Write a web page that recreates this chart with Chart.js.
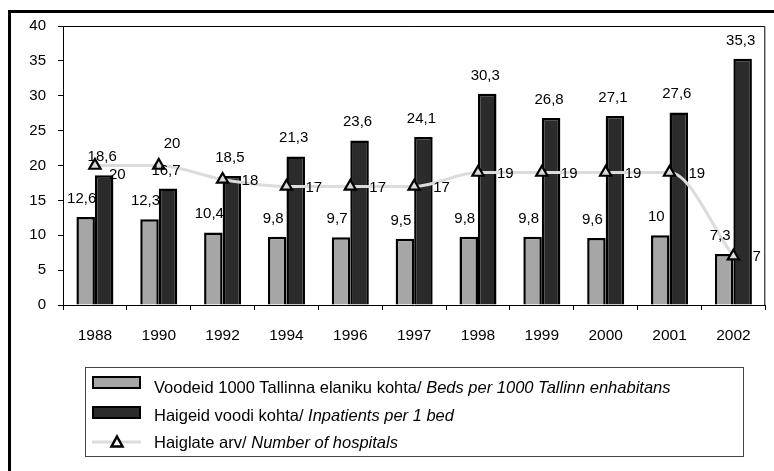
<!DOCTYPE html>
<html>
<head>
<meta charset="utf-8">
<script src="https://cdn.jsdelivr.net/npm/chart.js@4.4.1/dist/chart.umd.min.js"></script>
<style>
  html, body { margin: 0; padding: 0; background: #fff; }
  #wrap { position: relative; width: 774px; height: 471px; overflow: hidden; background: #fff; font-family: "Liberation Sans", Arial, sans-serif; }
  #frame { position: absolute; left: 8px; top: 10px; width: 800px; height: 500px; border-top: 3px solid #000; border-left: 3px solid #000; box-sizing: border-box; }
  #c { position: absolute; left: 0; top: 0; }
  #legend { position: absolute; left: 85px; top: 367px; width: 659px; height: 90px; border: 1px solid #444; box-sizing: border-box; }
  .sw { position: absolute; left: 6px; width: 49px; height: 13px; border: 2px solid #000; box-sizing: border-box; }
  .lt { position: absolute; left: 68px; font-size: 16.5px; line-height: 20px; white-space: nowrap; color: #000; }
  .lt i { font-style: italic; }
  #lsvg { position: absolute; left: 6px; top: 66px; }
</style>
</head>
<body>
<div id="wrap">
  <div id="frame"></div>
  <canvas id="c" width="774" height="471"></canvas>
  <div id="legend">
    <div class="sw" style="top:8px;background:#a6a6a6;"></div>
    <div class="lt" style="top:9px;">Voodeid 1000 Tallinna elaniku kohta/ <i>Beds per 1000 Tallinn enhabitans</i></div>
    <div class="sw" style="top:38px;background:#2b2b2b;"></div>
    <div class="lt" style="top:37px;">Haigeid voodi kohta/ <i>Inpatients per 1 bed</i></div>
    <svg id="lsvg" width="50" height="16" viewBox="0 0 50 16">
      <line x1="0" y1="8" x2="49" y2="8" stroke="#dcdcdc" stroke-width="3"/>
      <polygon points="25,2.5 30.5,12.5 19.5,12.5" fill="#fff" stroke="#000" stroke-width="2.5" stroke-linejoin="miter"/>
    </svg>
    <div class="lt" style="top:64px;">Haiglate arv/ <i>Number of hospitals</i></div>
  </div>
</div>
<script>
const years = ['1988', '1990', '1992', '1994', '1996', '1997', '1998', '1999', '2000', '2001', '2002'];
const bedsPer1000 = [12.6, 12.3, 10.4, 9.8, 9.7, 9.5, 9.8, 9.8, 9.6, 10, 7.3];
const inpatientsPerBed = [18.6, 16.7, 18.5, 21.3, 23.6, 24.1, 30.3, 26.8, 27.1, 27.6, 35.3];
const hospitals = [20, 20, 18, 17, 17, 17, 19, 19, 19, 19, 7];
const yTicks = [0, 5, 10, 15, 20, 25, 30, 35, 40];

const FONT = '"Liberation Sans", Arial, sans-serif';
const fmt = v => String(v).replace('.', ',');

const labelPlugin = {
  id: 'valueLabels',
  afterDatasetsDraw(chart) {
    const ctx = chart.ctx;
    ctx.save();
    ctx.fillStyle = '#000';
    ctx.font = '15px ' + FONT;
    [0, 1].forEach(di => {
      const meta = chart.getDatasetMeta(di);
      const data = chart.data.datasets[di].data;
      const dx = di === 0 ? -4 : -2;
      ctx.textAlign = 'center';
      ctx.textBaseline = 'alphabetic';
      meta.data.forEach((el, i) => {
        ctx.fillText(fmt(data[i]), el.x + dx, el.y - 14);
      });
    });
    const lm = chart.getDatasetMeta(2);
    const ld = chart.data.datasets[2].data;
    const offs = { 0: [14, 9], 1: [5, -22] };
    ctx.textAlign = 'left';
    ctx.textBaseline = 'middle';
    lm.data.forEach((el, i) => {
      const o = offs[i] || [19, 1];
      ctx.fillText(fmt(ld[i]), el.x + o[0], el.y + o[1]);
    });
    ctx.restore();
  },
  afterDraw(chart) {
    const a = chart.chartArea;
    const ctx = chart.ctx;
    ctx.save();
    ctx.strokeStyle = '#000';
    ctx.lineWidth = 1;
    ctx.beginPath();
    ctx.moveTo(a.left, a.top + 0.5);
    ctx.lineTo(a.right - 0.5, a.top + 0.5);
    ctx.lineTo(a.right - 0.5, a.bottom);
    ctx.stroke();
    ctx.restore();
  }
};

new Chart(document.getElementById('c'), {
  type: 'bar',
  data: {
    labels: years,
    datasets: [
      {
        label: 'Voodeid 1000 Tallinna elaniku kohta/ Beds per 1000 Tallinn enhabitans',
        data: bedsPer1000,
        backgroundColor: '#a6a6a6',
        borderColor: '#000',
        borderWidth: 2.5,
        categoryPercentage: 0.58,
        barPercentage: 1.0,
        order: 1
      },
      {
        label: 'Haigeid voodi kohta/ Inpatients per 1 bed',
        data: inpatientsPerBed,
        backgroundColor: '#2b2b2b',
        borderColor: '#000',
        borderWidth: 2.5,
        categoryPercentage: 0.58,
        barPercentage: 1.0,
        order: 1
      },
      {
        type: 'line',
        label: 'Haiglate arv/ Number of hospitals',
        data: hospitals,
        borderColor: '#dcdcdc',
        borderWidth: 3,
        cubicInterpolationMode: 'monotone',
        pointStyle: 'triangle',
        pointRadius: 6.5,
        pointBackgroundColor: '#d9d9d9',
        pointBorderColor: '#000',
        pointBorderWidth: 2.2,
        order: 0
      }
    ]
  },
  options: {
    responsive: false,
    animation: false,
    devicePixelRatio: 1,
    layout: { padding: { left: 0, top: 26, right: 7, bottom: 126 } },
    plugins: { legend: { display: false }, tooltip: { enabled: false } },
    scales: {
      x: {
        grid: { display: true, drawOnChartArea: false, drawTicks: true, tickLength: 5, color: '#000', offset: true },
        border: { display: true, color: '#000', width: 1 },
        ticks: { color: '#000', font: { family: FONT, size: 15.5 }, padding: 16, maxRotation: 0 },
        afterFit(s) { s.height = 40; }
      },
      y: {
        min: 0, max: 40,
        afterBuildTicks(s) { s.ticks = yTicks.map(v => ({ value: v })); },
        grid: { display: true, drawOnChartArea: false, drawTicks: true, tickLength: 5, color: '#000' },
        border: { display: true, color: '#000', width: 1 },
        ticks: { color: '#000', font: { family: FONT, size: 15 }, padding: 12 },
        afterFit(s) { s.width = 63; }
      }
    }
  },
  plugins: [labelPlugin]
});
</script>
</body>
</html>
